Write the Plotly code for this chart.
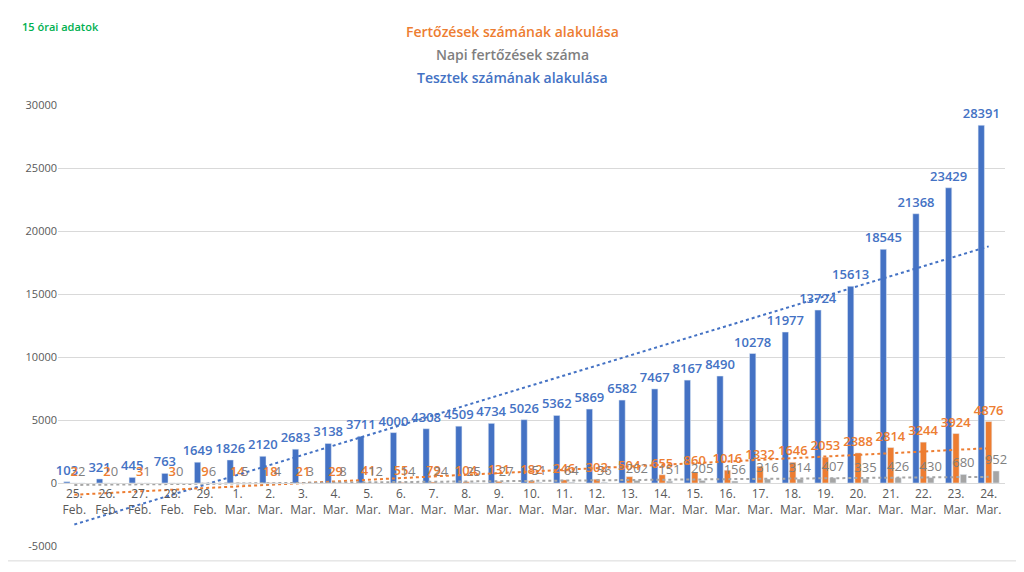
"""Napi teszt- és fertőzésszámok oszlopdiagramja, lineáris trendvonalakkal."""

import numpy as np
import plotly.graph_objects as go

# --- adatok -------------------------------------------------------------
days = [25, 26, 27, 28, 29] + list(range(1, 25))
months = ["Feb."] * 5 + ["Mar."] * 24

tests = [103, 321, 445, 763, 1649, 1826, 2120, 2683, 3138, 3711,
         4000, 4308, 4509, 4734, 5026, 5362, 5869, 6582, 7467, 8167,
         8490, 10278, 11977, 13724, 15613, 18545, 21368, 23429, 28391]
infected = [2, 2, 3, 3, 9, 14, 18, 21, 29, 41,
            55, 79, 104, 131, 182, 246, 302, 504, 655, 860,
            1016, 1332, 1646, 2053, 2388, 2814, 3244, 3924, 4876]
daily = [2, 0, 1, 0, 6, 5, 4, 3, 8, 12,
         14, 24, 25, 27, 51, 64, 56, 202, 151, 205,
         156, 316, 314, 407, 335, 426, 430, 680, 952]

y_ticks = [-5000, 0, 5000, 10000, 15000, 20000, 25000, 30000]
y_tick_text = ["-5000", "0", "5000", "10000", "15000", "20000", "25000", "30000"]

categories = [f"{d}.<br>{m}" for d, m in zip(days, months)]

BLUE = "#4472C4"
ORANGE = "#ED7D31"
GRAY = "#A5A5A5"
FONT = "Open Sans"

# the page body has an 8px margin, so the figure is a bit smaller than the window
OFF = 8
W, H = 1024 - 2 * OFF, 572 - 2 * OFF
ML, MT = 58 - OFF, 105 - OFF
MR = W - (1005 - OFF)
MB = H - (550 - OFF)
plot_w = W - ML - MR
plot_h = H - MT - MB


def px_x(px):
    """page pixel -> paper x"""
    return (px - OFF - ML) / plot_w


def px_y(py):
    """page pixel -> paper y"""
    return 1 - (py - OFF - MT) / plot_h


def trend(values):
    xs = np.arange(len(values))
    k, b = np.polyfit(xs, values, 1)
    return k * xs + b


fig = go.Figure()

series = [
    (tests, BLUE, BLUE, "Tesztek"),
    (infected, ORANGE, ORANGE, "Fertőzések"),
    (daily, GRAY, "#7F7F7F", "Napi"),
]
for values, color, text_color, name in series:
    fig.add_trace(go.Bar(
        x=categories, y=values, name=name,
        marker=dict(color=color),
        text=[str(v) for v in values],
        textposition="outside",
        textangle=0,
        constraintext="none",
        cliponaxis=False,
        textfont=dict(family=FONT, size=13, color=text_color,
                      weight=600 if name != "Napi" else 400),
    ))

# dotted linear trendlines, drawn from the same data
for values, color, _, name in series:
    fig.add_trace(go.Scatter(
        x=categories, y=trend(values), mode="lines",
        line=dict(color=color, width=2, dash="dot"),
        name=name + " trend", hoverinfo="skip",
    ))

# titles
titles = [
    ("Fertőzések számának alakulása", ORANGE, 31),
    ("Napi fertőzések száma", "#7F7F7F", 54),
    ("Tesztek számának alakulása", BLUE, 77),
]
for text, color, py in titles:
    fig.add_annotation(
        text=text, xref="paper", yref="paper",
        x=px_x(512), y=px_y(py),
        showarrow=False, xanchor="center", yanchor="middle",
        font=dict(family=FONT, size=14, color=color, weight=600),
    )
fig.add_annotation(
    text="15 órai adatok", xref="paper", yref="paper",
    x=px_x(20), y=px_y(26),
    showarrow=False, xanchor="left", yanchor="middle",
    font=dict(family=FONT, size=11, color="#00B050", weight=600),
)

# chart border
fig.add_shape(
    type="rect", xref="paper", yref="paper",
    x0=px_x(5), x1=px_x(1018), y0=px_y(565), y1=px_y(5),
    line=dict(color="#D9D9D9", width=1), layer="below",
)

ymin, ymax = y_ticks[0], y_ticks[-1]
fig.update_layout(
    width=W, height=H,
    margin=dict(l=ML, r=MR, t=MT, b=MB, pad=0),
    paper_bgcolor="white", plot_bgcolor="white",
    showlegend=False,
    barmode="group", bargap=0.32, bargroupgap=0.15,
    font=dict(family=FONT, color="#595959"),
    xaxis=dict(
        type="category", anchor="free",
        position=(0 - ymin) / (ymax - ymin),
        showline=True, linecolor="#D9D9D9", linewidth=1,
        showgrid=False, ticks="",
        tickfont=dict(family=FONT, size=12, color="#595959"),
    ),
    yaxis=dict(
        range=[ymin, ymax], tickvals=y_ticks, ticktext=y_tick_text,
        showgrid=True, gridcolor="#D9D9D9", gridwidth=1,
        zeroline=False, showline=False, ticks="",
        tickfont=dict(family=FONT, size=11, color="#595959"),
    ),
)

fig.write_html("out.html")
